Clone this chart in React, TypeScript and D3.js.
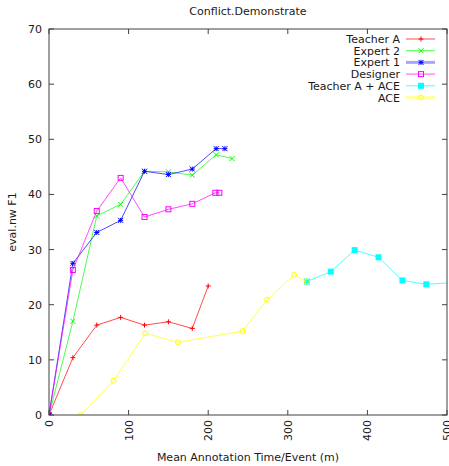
import React, { useEffect, useRef } from 'react';
import * as d3 from 'd3';

// values: [time, F1]
const teacherA: [number, number][] = [[0, 0], [30, 10.4], [60, 16.3], [90, 17.7], [120, 16.3], [150, 16.9], [180, 15.7], [200, 23.4]];
const expert2: [number, number][] = [[0, 0], [30, 17.0], [60, 36.1], [90, 38.2], [120, 44.2], [150, 44.1], [180, 43.5], [210, 47.2], [230, 46.5]];
const expert1: [number, number][] = [[0, 0], [30, 27.5], [60, 33.1], [90, 35.3], [120, 44.2], [150, 43.6], [180, 44.6], [210, 48.3], [221, 48.3]];
const designer: [number, number][] = [[0, 0], [30, 26.3], [60, 37.0], [90, 43.0], [120, 35.9], [150, 37.3], [180, 38.3], [209, 40.3], [214, 40.3]];
const teacherAce: [number, number][] = [[324, 24.2], [354, 26.0], [384, 29.9], [414, 28.6], [444, 24.4], [474, 23.7], [530, 24.2]];
const ace: [number, number][] = [[40, 0], [81, 6.2], [121, 14.8], [162, 13.2], [243, 15.2], [274, 20.9], [308, 25.4], [324, 24.2]];

const seriesNames = ['Teacher A', 'Expert 2', 'Expert 1', 'Designer', 'Teacher A + ACE', 'ACE'];
const seriesData = [teacherA, expert2, expert1, designer, teacherAce, ace];
const seriesColors = ['#ff0000', '#00ff00', '#0000ff', '#ff00ff', '#00ffff', '#ffff00'];
const seriesMarkers = ['plus', 'cross', 'star', 'openSquare', 'filledSquare', 'openCircle'];

const xTicks = [0, 100, 200, 300, 400, 500];
const yTicks = [0, 10, 20, 30, 40, 50, 60, 70];

const W = 449;
const H = 466;

function drawMarker(g: any, kind: string, x: number, y: number, color: string) {
  const s = 2.5;
  if (kind === 'plus' || kind === 'star') {
    g.append('path').attr('d', `M${x - s},${y}H${x + s}M${x},${y - s}V${y + s}`)
      .attr('stroke', color).attr('stroke-width', 1).attr('fill', 'none');
  }
  if (kind === 'cross' || kind === 'star') {
    g.append('path').attr('d', `M${x - s},${y - s}L${x + s},${y + s}M${x - s},${y + s}L${x + s},${y - s}`)
      .attr('stroke', color).attr('stroke-width', 1).attr('fill', 'none');
  }
  if (kind === 'openSquare') {
    g.append('rect').attr('x', x - s).attr('y', y - s).attr('width', 2 * s).attr('height', 2 * s)
      .attr('fill', 'none').attr('stroke', color).attr('stroke-width', 1);
  }
  if (kind === 'filledSquare') {
    g.append('rect').attr('x', x - s - 0.5).attr('y', y - s - 0.5).attr('width', 2 * s + 1).attr('height', 2 * s + 1)
      .attr('fill', color);
  }
  if (kind === 'openCircle') {
    g.append('circle').attr('cx', x).attr('cy', y).attr('r', s)
      .attr('fill', 'none').attr('stroke', color).attr('stroke-width', 1);
  }
}

const App: React.FC = () => {
  const svgRef = useRef<SVGSVGElement>(null);

  useEffect(() => {
    if (!svgRef.current) return;
    const svg = d3.select(svgRef.current);
    svg.selectAll('*').remove();

    const left = 49, right = 447, top = 29, bottom = 415;
    const font = 'DejaVu Sans, sans-serif';
    const frame = '#404040';
    const ink = '#1a1a1a';

    const x = d3.scaleLinear().domain([0, 500]).range([left, right]);
    const y = d3.scaleLinear().domain([0, 70]).range([bottom, top]);

    svg.append('rect').attr('width', W).attr('height', H).attr('fill', '#fff');

    svg.append('defs').append('clipPath').attr('id', 'plot-clip')
      .append('rect').attr('x', left).attr('y', top).attr('width', right - left).attr('height', bottom - top);

    // --- ticks (inward, mirrored) ---
    const tickLen = 5;
    xTicks.forEach(t => {
      const px = x(t);
      svg.append('line').attr('x1', px).attr('x2', px).attr('y1', bottom).attr('y2', bottom - tickLen).attr('stroke', frame);
      svg.append('line').attr('x1', px).attr('x2', px).attr('y1', top).attr('y2', top + tickLen).attr('stroke', frame);
      svg.append('text')
        .attr('transform', `translate(${px + 4},${bottom + 5}) rotate(-90)`)
        .attr('text-anchor', 'end')
        .attr('font-family', font).attr('font-size', 11).attr('fill', ink)
        .text(t);
    });
    yTicks.forEach(t => {
      const py = y(t);
      svg.append('line').attr('x1', left).attr('x2', left + tickLen).attr('y1', py).attr('y2', py).attr('stroke', frame);
      svg.append('line').attr('x1', right).attr('x2', right - tickLen).attr('y1', py).attr('y2', py).attr('stroke', frame);
      svg.append('text')
        .attr('x', left - 7).attr('y', py + 4)
        .attr('text-anchor', 'end')
        .attr('font-family', font).attr('font-size', 11).attr('fill', ink)
        .text(t);
    });

    // --- series ---
    const line = d3.line<[number, number]>().x(d => x(d[0])).y(d => y(d[1]));
    const plot = svg.append('g').attr('clip-path', 'url(#plot-clip)');
    seriesData.forEach((data, i) => {
      plot.append('path').datum(data)
        .attr('d', line)
        .attr('fill', 'none')
        .attr('stroke', seriesColors[i])
        .attr('stroke-opacity', 0.7)
        .attr('stroke-width', 1);
      data.forEach(d => {
        if (d[0] > 500) return;
        drawMarker(plot, seriesMarkers[i], x(d[0]), y(d[1]), seriesColors[i]);
      });
    });

    // --- frame ---
    svg.append('rect').attr('x', left).attr('y', top).attr('width', right - left).attr('height', bottom - top)
      .attr('fill', 'none').attr('stroke', frame).attr('stroke-width', 1);

    // --- legend ---
    const legend = svg.append('g');
    seriesNames.forEach((name, i) => {
      const ly = 39 + i * 11.7;
      legend.append('text')
        .attr('x', 400).attr('y', ly + 4)
        .attr('text-anchor', 'end')
        .attr('font-family', font).attr('font-size', 11).attr('fill', ink)
        .text(name);
      const thick = i === 2 || i === 5;
      legend.append('line')
        .attr('x1', 406).attr('x2', 435).attr('y1', ly).attr('y2', ly)
        .attr('stroke', seriesColors[i])
        .attr('stroke-opacity', thick ? 0.35 : 0.7)
        .attr('stroke-width', thick ? 3 : 1);
      drawMarker(legend, seriesMarkers[i], 421, ly, seriesColors[i]);
    });

    // --- titles ---
    svg.append('text')
      .attr('x', (left + right) / 2).attr('y', 15)
      .attr('text-anchor', 'middle')
      .attr('font-family', font).attr('font-size', 11).attr('fill', ink)
      .text('Conflict.Demonstrate');

    svg.append('text')
      .attr('x', (left + right) / 2).attr('y', 461)
      .attr('text-anchor', 'middle')
      .attr('font-family', font).attr('font-size', 11).attr('fill', ink)
      .text('Mean Annotation Time/Event (m)');

    svg.append('text')
      .attr('transform', `translate(16,${(top + bottom) / 2}) rotate(-90)`)
      .attr('text-anchor', 'middle')
      .attr('font-family', font).attr('font-size', 11).attr('fill', ink)
      .text('eval.nw F1');
  }, []);

  return (
    <div style={{ position: 'absolute', left: 0, top: 0 }}>
      <svg ref={svgRef} width={W} height={H} style={{ display: 'block' }} />
    </div>
  );
};

export default App;
